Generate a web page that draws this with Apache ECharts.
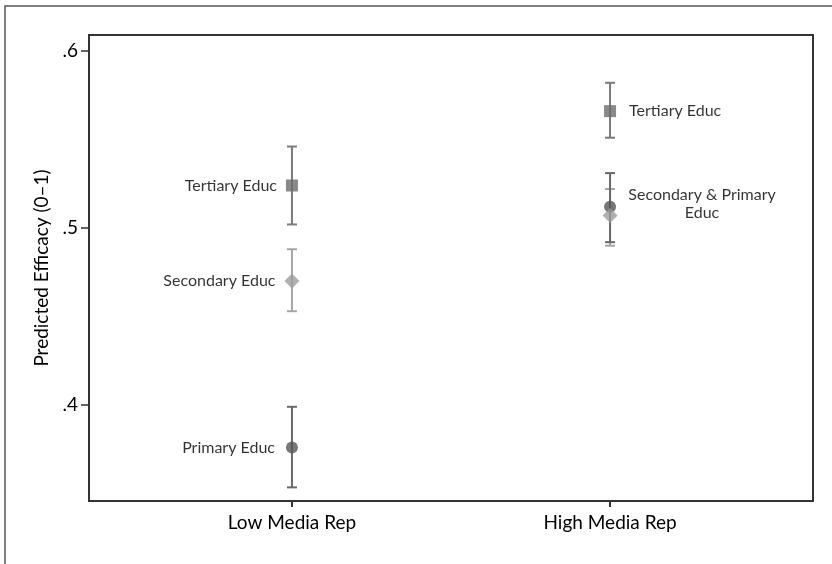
<!DOCTYPE html>
<html>
<head>
<meta charset="utf-8">
<style>
  html, body { margin: 0; padding: 0; background: #fff; }
  #chart { width: 832px; height: 564px; }
</style>
<script src="https://cdn.jsdelivr.net/npm/echarts@6/dist/echarts.min.js"></script>
</head>
<body>
<div id="chart"></div>
<script>
// groups on the x axis (placed at 1 and 2)
var groups = ['Low Media Rep', 'High Media Rep']
var groupPos = [1, 2]
var yTicks = [0.4, 0.5, 0.6]

// predicted efficacy and 95% CI, per education level
var tertiaryMean = [0.524, 0.566]
var tertiaryLow = [0.502, 0.551]
var tertiaryHigh = [0.546, 0.582]

var secondaryMean = [0.470, 0.507]
var secondaryLow = [0.453, 0.490]
var secondaryHigh = [0.488, 0.522]

var primaryMean = [0.376, 0.512]
var primaryLow = [0.3535, 0.492]
var primaryHigh = [0.399, 0.531]

var font = 'Lato'
var textColor = '#000'

function errorBar(color, low, high, z) {
  var data = []
  for (var i = 0; i < groupPos.length; i++) {
    data.push([groupPos[i], low[i], high[i]])
  }
  return {
    type: 'custom',
    z: z,
    silent: true,
    data: data,
    encode: { x: 0, y: [1, 2] },
    renderItem: function (params, api) {
      var x = api.value(0)
      var lo = api.coord([x, api.value(1)])
      var hi = api.coord([x, api.value(2)])
      var half = 5
      var style = { stroke: color, lineWidth: 2 }
      return {
        type: 'group',
        children: [
          { type: 'line', shape: { x1: lo[0], y1: lo[1], x2: hi[0], y2: hi[1] }, style: style },
          { type: 'line', shape: { x1: lo[0] - half, y1: lo[1], x2: lo[0] + half, y2: lo[1] }, style: style },
          { type: 'line', shape: { x1: hi[0] - half, y1: hi[1], x2: hi[0] + half, y2: hi[1] }, style: style }
        ]
      }
    }
  }
}

function points(means, labels) {
  var out = []
  for (var i = 0; i < groupPos.length; i++) {
    var item = { value: [groupPos[i], means[i]] }
    if (labels[i]) {
      item.label = Object.assign({
        show: true,
        fontFamily: font,
        fontSize: 16,
        color: textColor
      }, labels[i])
    } else {
      item.label = { show: false }
    }
    out.push(item)
  }
  return out
}

var chart = echarts.init(document.getElementById('chart'))
chart.setOption({
  animation: false,
  backgroundColor: '#fff',
  graphic: [{
    type: 'rect',
    shape: { x: 5, y: 6, width: 900, height: 900 },
    style: { fill: 'none', stroke: '#555', lineWidth: 1.5 },
    silent: true
  }],
  grid: {
    left: 89,
    right: 19,
    top: 35,
    bottom: 63,
    show: true,
    borderColor: '#333',
    borderWidth: 2
  },
  xAxis: {
    type: 'value',
    min: 0.362,
    max: 2.638,
    axisLine: { show: false },
    splitLine: { show: false },
    axisTick: {
      show: true,
      customValues: groupPos,
      length: 6,
      lineStyle: { color: '#333', width: 2 }
    },
    axisLabel: {
      customValues: groupPos,
      formatter: function (v) { return groups[Math.round(v) - 1] },
      fontFamily: font,
      fontSize: 19,
      color: textColor,
      margin: 12
    }
  },
  yAxis: {
    type: 'value',
    min: 0.3458,
    max: 0.609,
    name: 'Predicted Efficacy (0\u20131)',
    nameLocation: 'middle',
    nameGap: 38,
    nameTextStyle: { fontFamily: font, fontSize: 19, color: textColor },
    axisLine: { show: false },
    splitLine: { show: false },
    axisTick: {
      show: true,
      customValues: yTicks,
      length: 8,
      lineStyle: { color: '#333', width: 1.5 }
    },
    axisLabel: {
      customValues: yTicks,
      formatter: function (v) { return v.toFixed(1).replace(/^0/, '') },
      fontFamily: font,
      fontSize: 19,
      color: textColor,
      margin: 11
    }
  },
  series: [
    errorBar('#7a7a7a', tertiaryLow, tertiaryHigh, 1),
    errorBar('#a6a6a6', secondaryLow, secondaryHigh, 1),
    errorBar('#686868', primaryLow, primaryHigh, 1),
    {
      type: 'scatter',
      z: 3,
      symbol: 'rect',
      symbolSize: 12,
      itemStyle: { color: '#6b6b6b' },
      data: points(tertiaryMean, [
        { position: 'left', distance: 9, formatter: 'Tertiary Educ' },
        { position: 'right', distance: 13, formatter: 'Tertiary Educ' }
      ])
    },
    {
      type: 'scatter',
      z: 3,
      symbol: 'diamond',
      symbolSize: 15,
      itemStyle: { color: '#9c9c9c' },
      data: points(secondaryMean, [
        { position: 'left', distance: 9, formatter: 'Secondary Educ' },
        null
      ])
    },
    {
      type: 'scatter',
      z: 2,
      symbol: 'circle',
      symbolSize: 12,
      itemStyle: { color: '#555' },
      data: points(primaryMean, [
        { position: 'left', distance: 11, formatter: 'Primary Educ' },
        { position: 'inside', offset: [92, -3], align: 'center', lineHeight: 18, formatter: 'Secondary & Primary\nEduc' }
      ])
    }
  ]
})
</script>
</body>
</html>
